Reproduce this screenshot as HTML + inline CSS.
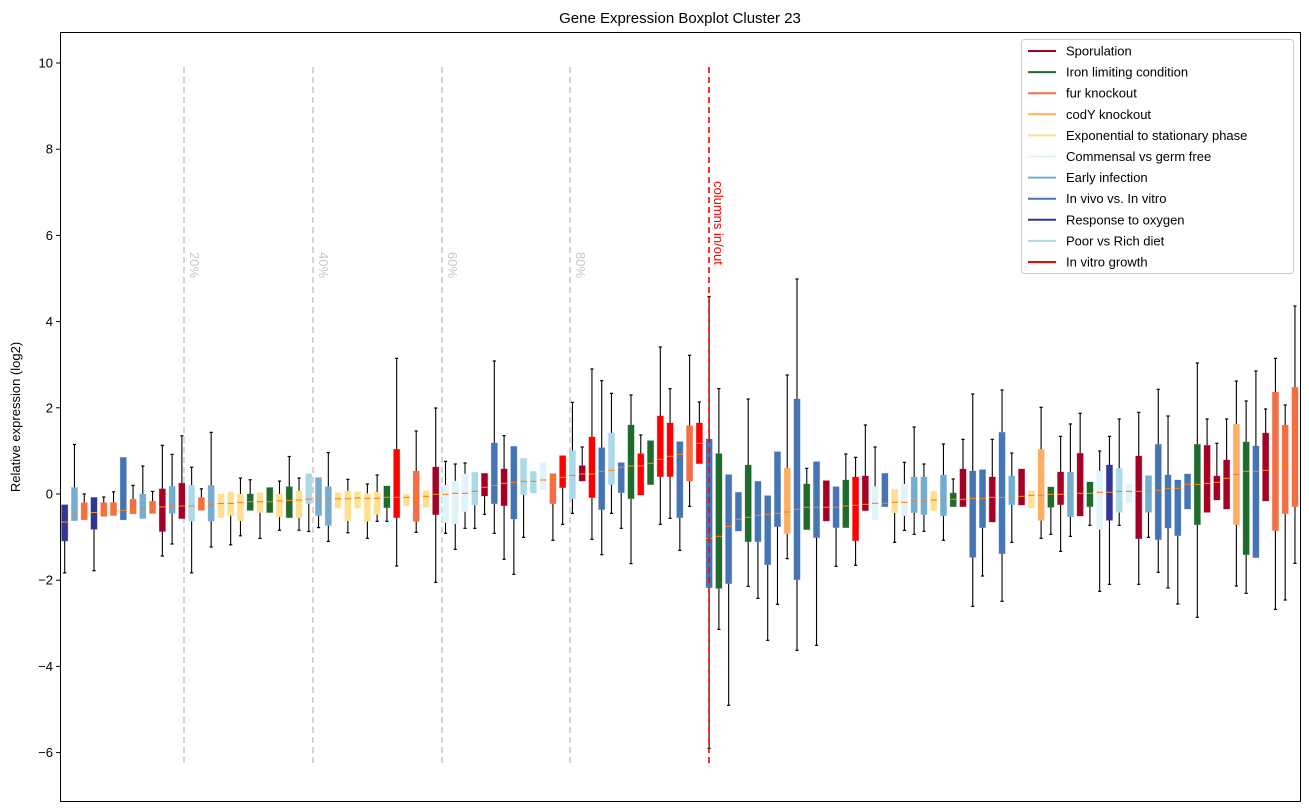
<!DOCTYPE html>
<html><head><meta charset="utf-8"><style>
html,body{margin:0;padding:0;background:#fff;}
svg{display:block;font-family:"Liberation Sans","DejaVu Sans",sans-serif;}
</style></head><body>
<svg id="s" width="1309" height="812" viewBox="0 0 1309 812" xmlns="http://www.w3.org/2000/svg">
<rect x="0" y="0" width="1309" height="812" fill="#fff"/>
<text x="680" y="23" font-size="15" text-anchor="middle">Gene Expression Boxplot Cluster 23</text>
<text transform="translate(20,417) rotate(-90)" font-size="13" text-anchor="middle">Relative expression (log2)</text>
<g id="dash" stroke="#cccccc" stroke-width="1.6" stroke-dasharray="6,4">
<line x1="184" y1="67" x2="184" y2="767"/>
<line x1="313" y1="67" x2="313" y2="767"/>
<line x1="442" y1="67" x2="442" y2="767"/>
<line x1="570" y1="67" x2="570" y2="767"/>
</g>
<g font-size="13" fill="#c8c8c8">
<text transform="translate(190,252) rotate(90)">20%</text>
<text transform="translate(319,252) rotate(90)">40%</text>
<text transform="translate(448,252) rotate(90)">60%</text>
<text transform="translate(576,252) rotate(90)">80%</text>
</g>
<g id="boxes"></g>
<line x1="709" y1="67" x2="709" y2="767" stroke="#ff0000" stroke-width="1.6" stroke-dasharray="6,4"/>
<text transform="translate(714,181) rotate(90)" font-size="13" fill="#ff0000">columns in/out</text>
<rect x="60.5" y="32.5" width="1240" height="769" fill="none" stroke="#000" stroke-width="1"/>
<g id="ticks" font-size="13"></g>
<g>
<rect x="1021.5" y="39.5" width="272" height="234" rx="3" fill="#fff" fill-opacity="0.85" stroke="#cccccc"/>
<g id="leg" font-size="13"></g>
</g>
</svg>
<script>
var C={S:"#a50026",I:"#1f6b2b",F:"#f46d43",C:"#fdae61",E:"#fee090",G:"#e0f3f8",EI:"#74add1",V:"#4575b4",O:"#313695",P:"#abd9e9",R:"#ff0000"};
function yv(v){return 494-43.1*v;}
var boxes=[];
var z1=[["O",null,-0.25,-0.65,-1.09,-1.83],["EI",1.15,0.15,-0.49,-0.62,null],["F",0.0,-0.2,-0.47,-0.6,null],["O",null,-0.08,-0.43,-0.82,-1.78],
["F",-0.07,-0.2,-0.43,-0.52,null],["F",0.05,-0.2,-0.4,-0.5,null],["V",null,0.85,-0.38,-0.6,null],["F",0.2,-0.12,-0.38,-0.46,null],
["EI",0.65,0.0,-0.32,-0.57,null],["F",0.06,-0.17,-0.3,-0.45,null],["S",1.13,0.12,-0.3,-0.87,-1.44],["EI",0.92,0.18,-0.28,-0.45,-1.16],
["S",1.35,0.25,-0.28,-0.57,null],["P",0.62,0.2,-0.28,-0.63,-1.83],["F",0.12,-0.08,-0.25,-0.38,null],["EI",1.43,0.2,-0.25,-0.63,-1.23],
["E",null,0.0,-0.22,-0.55,null],["E",null,0.05,-0.22,-0.5,-1.18],["E",0.37,0.0,-0.2,-0.62,-0.97],["I",0.33,0.0,-0.18,-0.38,null],
["E",null,0.03,-0.18,-0.43,-1.03],["I",null,0.15,-0.18,-0.43,null],["E",0.3,0.0,-0.16,-0.53,-0.84],["I",0.87,0.17,-0.15,-0.55,null],
["E",0.37,0.07,-0.14,-0.55,-0.84],["P",null,0.47,-0.12,-0.22,-0.87],["EI",null,0.38,-0.12,-0.5,-0.78],["EI",0.96,0.17,-0.12,-0.73,-1.1],
["E",null,0.03,-0.11,-0.33,null],["E",0.34,0.07,-0.11,-0.62,-0.9],["E",null,0.05,-0.09,-0.33,null]];
z1.forEach(function(b){boxes.push([b[0]].concat(b.slice(1).map(function(v){return v===null?null:yv(v);})));});
function addZ(off,arr){arr.forEach(function(b){boxes.push([b[0]].concat(b.slice(1).map(function(v){return v===null?null:off+v/3;})));});}
addZ(280,[["E",612,641,655,724,775],["E",585,636,655,703,724],["I",null,618,652,683,724],["R",235,508,652,713,858],["E",null,643,652,678,null],
["F",453,573,649,724,757],["E",null,632,649,682,null],["S",384,561,643,704,907],["G",544,615,643,728,760],["G",552,603,640,731,808],
["G",549,582,640,695,745],["P",null,577,634,675,745],["S",null,580,622,648,703],["V",243,489,616,671,760],["S",467,567,610,677,838],
["V",null,499,607,717,883],["P",null,535,604,644,772],["P",null,574,604,639,null],["G",null,547,600,628,null],["F",null,581,595,671,781],
["R",null,527,592,623,733],["P",367,512,586,656,700],["S",501,557,582,603,null],["R",267,471,582,653,778],["V",302,503,574,689,824],
["P",340,459,571,614,700],["V",null,548,562,638,745],["I",345,435,558,656,851],["R",465,521,558,645,null],["I",null,482,550,614,null],
["R",201,408,538,590,733],["R",326,429,529,590,715],["V",null,485,523,713,811],["F",226,437,508,603,679],["R",366,429,490,551,null],
["V",50,477,775,923,1405],["I",326,521,769,925,null]]);
boxes[boxes.length-1][5]=270+1078/3;
addZ(270,[["V",null,614,769,941,1306],["V",null,667,748,783,null],["I",387,585,742,815,949],["V",null,634,736,815,985],["V",null,677,733,884,1111],
["V",null,545,730,770,1003],["C",315,594,726,791,866],["V",27,387,718,929,1141],["I",595,642,712,779,null],["V",null,575,712,803,1126],
["S",null,632,712,753,null],["V",null,650,712,773,889],["I",552,630,708,773,null],["R",562,621,706,812,886],["S",465,618,703,722,null],
["G",531,650,700,750,null],["V",null,610,700,710,null],["E",null,658,697,728,817],["G",577,642,697,737,781],["EI",471,621,693,728,793],
["EI",582,621,693,734,784],["E",null,664,690,722,null],["EI",522,615,688,737,811],["I",627,669,688,710,null],["S",508,597,688,710,null],
["V",372,603,685,862,1009],["V",null,599,685,773,918],["S",508,621,682,756,null],["V",360,487,682,851,994],["EI",549,618,682,704,817]]);
addZ(300,[["S",null,507,589,615,null],["E",null,573,586,623,null],["C",322,448,586,661,715],["I",null,561,583,622,703],["S",409,516,583,614,754],
["EI",372,516,580,650,709],["S",340,460,580,648,null],["I",null,546,580,620,676],["G",453,513,577,688,874],["O",409,495,577,661,853],
["P",357,505,574,637,676],["G",null,553,574,609,null],["S",337,468,574,716,853],["EI",null,527,574,637,712],["V",268,433,571,719,817],
["V",348,525,565,684,864],["V",null,540,565,707,912],["V",null,522,553,627,null],["I",189,433,553,674,952],["S",357,436,550,637,null],
["S",430,528,547,600,null],["S",357,480,535,627,null],["C",243,372,523,674,858],["I",303,426,514,764,880],["V",213,438,514,773,null],
["S",327,399,511,603,null],["F",175,276,496,692,928],["F",315,375,493,641,900],["F",18,262,379,620,790]]);
var h="";
boxes.forEach(function(b,i){
  var x=64.7+i*9.764, c=C[b[0]], hi=b[1],q3=b[2],md=b[3],q1=b[4],lo=b[5];
  if(hi!==null){h+='<line x1="'+x+'" y1="'+hi+'" x2="'+x+'" y2="'+q3+'" stroke="#000" stroke-width="1.1"/>';
    h+='<line x1="'+(x-1.6)+'" y1="'+hi+'" x2="'+(x+1.6)+'" y2="'+hi+'" stroke="#000" stroke-width="1.2"/>';}
  if(lo!==null){h+='<line x1="'+x+'" y1="'+q1+'" x2="'+x+'" y2="'+lo+'" stroke="#000" stroke-width="1.1"/>';
    h+='<line x1="'+(x-1.6)+'" y1="'+lo+'" x2="'+(x+1.6)+'" y2="'+lo+'" stroke="#000" stroke-width="1.2"/>';}
  h+='<rect x="'+(x-3.1)+'" y="'+q3+'" width="6.2" height="'+Math.max(q1-q3,1)+'" fill="'+c+'" stroke="'+c+'" stroke-opacity="0.35" stroke-width="0.8"/>';
  h+='<line x1="'+(x-3.1)+'" y1="'+md+'" x2="'+(x+3.1)+'" y2="'+md+'" stroke="#ff7f0e" stroke-width="1.1"/>';
});
document.getElementById("boxes").innerHTML=h;
var t="";
for(var v=10;v>=-6;v-=2){var y=yv(v);t+='<line x1="56" y1="'+y+'" x2="60" y2="'+y+'" stroke="#000"/>';
 t+='<text x="53" y="'+(y+4.5)+'" text-anchor="end">'+(v<0?'\u2212'+(-v):v)+'</text>';}
document.getElementById("ticks").innerHTML=t;
var L=[["Sporulation","S"],["Iron limiting condition","I"],["fur knockout","F"],["codY knockout","C"],["Exponential to stationary phase","E"],
["Commensal vs germ free","G"],["Early infection","EI"],["In vivo vs. In vitro","V"],["Response to oxygen","O"],["Poor vs Rich diet","P"],["In vitro growth","R"]];
var l="";
L.forEach(function(e,i){var y=51+i*21.1;l+='<line x1="1028" y1="'+y+'" x2="1056" y2="'+y+'" stroke="'+C[e[1]]+'" stroke-width="2"/>';
 l+='<text x="1066" y="'+(y+4.5)+'">'+e[0]+'</text>';});
document.getElementById("leg").innerHTML=l;
</script>
</body></html>
